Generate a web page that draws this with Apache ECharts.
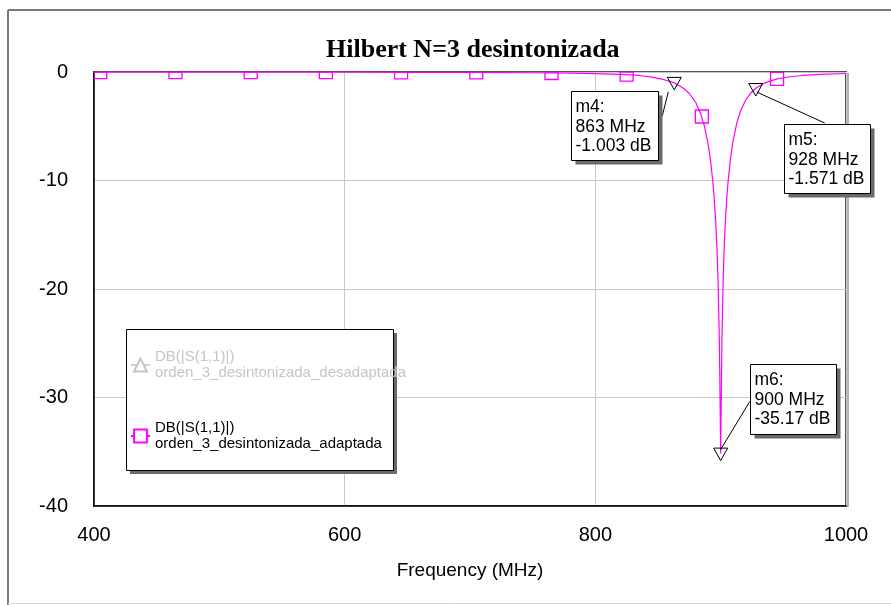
<!DOCTYPE html>
<html><head><meta charset="utf-8">
<script src="https://cdn.jsdelivr.net/npm/echarts@6/dist/echarts.min.js"></script>
<style>html,body{margin:0;padding:0;background:#fff}#c{width:891px;height:605px}</style>
</head><body><div id="c"></div>
<script>
// ---- data ----
const freqMHz = [400,450,500,550,600,650,700,750,780,800,820,835,845,855,863,870,875,880,884,887,890,892,894,895,896,897,898,899,899.5,900,900.5,901,902,903,904,905,906,908,910,913,916,920,924,928,935,945,955,965,980,1000];
const adaptadaDb = [-0.01,-0.01,-0.01,-0.01,-0.02,-0.03,-0.04,-0.07,-0.11,-0.15,-0.22,-0.32,-0.47,-0.71,-1.00,-1.47,-1.98,-2.79,-3.82,-4.97,-6.64,-8.22,-10.41,-11.86,-13.69,-16.09,-19.49,-25.13,-30.02,-35.17,-29.68,-24.71,-19.03,-15.63,-13.25,-11.43,-9.99,-7.82,-6.27,-4.65,-3.55,-2.58,-1.94,-1.50,-1.02,-0.64,-0.44,-0.32,-0.21,-0.14];
const desadaptadaDb = []; // series hidden in the reference
const squareFreq = [405,465,525,585,645,705,765,825,885,945];
const squareDb = [-0.01,-0.01,-0.01,-0.02,-0.03,-0.04,-0.09,-0.25,-4.1,-0.64];
const markerName = ['m4','m5','m6'];
const markerFreq = [863,928,900];
const markerDb = [-1.003,-1.571,-35.17];
const xTicks = [400,600,800,1000];
const yTicks = [0,-10,-20,-30,-40];
const titleText = 'Hilbert N=3 desintonizada';
const xName = 'Frequency (MHz)';
const nameDes = 'DB(|S(1,1)|)\norden_3_desintonizada_desadaptada';
const nameAd = 'DB(|S(1,1)|)\norden_3_desintonizada_adaptada';

// ---- layout (pixel offsets of marker boxes relative to their point) ----
const boxLayout = [
  {dx:-103, dy:8,  w:87, h:69, sx:-6, sy:9,  ex:-12, ey:33},
  {dx:28,   dy:35, w:86, h:69, sx:1,  sy:3,  ex:69,  ey:34},
  {dx:29,   dy:-90,w:86, h:70, sx:0,  sy:-4, ex:29,  ey:-52}
];

const chart = echarts.init(document.getElementById('c'), null, {renderer:'canvas'});
const SANS = '"Liberation Sans", Arial, sans-serif';

chart.setOption({
  animation:false,
  backgroundColor:'#fff',
  title:{text:titleText, left:321, top:32, textStyle:{fontFamily:'"Liberation Serif", "Times New Roman", serif', fontWeight:'bold', fontSize:26, color:'#000'}},
  grid:{left:94, top:72, width:752, height:434, show:true, borderColor:'#555', borderWidth:2, backgroundColor:'transparent'},
  legend:{
    orient:'vertical', left:125, top:333, z:6,
    data:[nameDes, nameAd],
    selected:{[nameDes]:false},
    itemWidth:19, itemHeight:16, itemGap:17,
    inactiveColor:'#c4c4cc',
    textStyle:{fontFamily:SANS, fontSize:15, lineHeight:16, color:'#000', padding:[22,0,0,0]}
  },
  xAxis:{
    type:'value', min:xTicks[0], max:xTicks[xTicks.length-1], interval:200,
    name:xName, nameLocation:'middle', nameGap:55,
    nameTextStyle:{fontFamily:SANS, fontSize:19, color:'#000'},
    axisLine:{show:true, onZero:false, lineStyle:{color:'#000', width:1.5}},
    axisTick:{show:false},
    axisLabel:{fontFamily:SANS, fontSize:20, color:'#000', margin:19, formatter:function(v){return String(v);}},
    splitLine:{show:true, lineStyle:{color:'#c8c8c8', width:1}}
  },
  yAxis:{
    type:'value', min:yTicks[yTicks.length-1], max:yTicks[0], interval:10,
    axisLine:{show:true, onZero:false, lineStyle:{color:'#000', width:1.5}},
    axisTick:{show:false},
    axisLabel:{fontFamily:SANS, fontSize:20, color:'#000', margin:26, formatter:function(v){return String(v);}},
    splitLine:{show:true, lineStyle:{color:'#c8c8c8', width:1}}
  },
  graphic:[
    {type:'line', shape:{x1:8, y1:10, x2:891, y2:10}, style:{stroke:'#7a7a7a', lineWidth:2}, z:1},
    {type:'line', shape:{x1:8, y1:10, x2:8, y2:605}, style:{stroke:'#7a7a7a', lineWidth:2}, z:1},
    {type:'line', shape:{x1:8, y1:603.5, x2:891, y2:603.5}, style:{stroke:'#d8d8d8', lineWidth:1}, z:1},
    {type:'line', shape:{x1:848, y1:73, x2:848, y2:507}, style:{stroke:'#9a9a9a', lineWidth:1.5}, z:1},
    {type:'rect', shape:{x:130, y:333, width:267, height:141}, style:{fill:'#6a6a6a'}, z:3},
    {type:'rect', shape:{x:126.5, y:329.5, width:267, height:141}, style:{fill:'#fff', stroke:'#000', lineWidth:1}, z:3}
  ],
  series:[
    {
      name:nameDes, type:'line', data:desadaptadaDb,
      symbol:'emptyTriangle', showSymbol:false,
      lineStyle:{color:'#8080ff', width:1}, itemStyle:{color:'#8080ff'}
    },
    {
      name:nameAd, type:'line',
      data:freqMHz.map((f,i)=>[f, adaptadaDb[i]]),
      symbol:'emptyRect', showSymbol:false, smooth:false, clip:true,
      lineStyle:{color:'#ff00ff', width:1.2}, itemStyle:{color:'#ff00ff'},
      z:3
    },
    {
      name:'squares', type:'custom', clip:true, z:3,
      data:squareFreq.map((f,i)=>[f, squareDb[i]]),
      renderItem:function(params, api){
        const p = api.coord([api.value(0), api.value(1)]);
        const top = api.coord([xTicks[0], yTicks[0]])[1];
        const y0 = Math.max(p[1]-6.5, top);
        const y1 = p[1]+6.5;
        return {type:'rect', shape:{x:p[0]-6.5, y:y0, width:13, height:y1-y0},
          style:{fill:'none', stroke:'#ff00ff', lineWidth:1.3}};
      }
    },
    {
      name:'markers', type:'custom', clip:false, z:5,
      data:markerFreq.map((f,i)=>[f, markerDb[i]]),
      renderItem:function(params, api){
        const i = params.dataIndex;
        const p = api.coord([api.value(0), api.value(1)]);
        const L = boxLayout[i];
        const bx = Math.round(p[0]+L.dx)+0.5, by = Math.round(p[1]+L.dy)+0.5;
        const txt = markerName[i] + ':\n' + markerFreq[i] + ' MHz\n' + markerDb[i] + ' dB';
        return {type:'group', children:[
          {type:'line', shape:{x1:p[0]+L.sx, y1:p[1]+L.sy, x2:p[0]+L.ex, y2:p[1]+L.ey}, style:{stroke:'#000', lineWidth:1}},
          {type:'polygon', shape:{points:[[p[0]-7,p[1]-5.5],[p[0]+7,p[1]-5.5],[p[0],p[1]+7]]}, style:{fill:'none', stroke:'#000', lineWidth:1}},
          {type:'rect', shape:{x:bx+4, y:by+4, width:L.w, height:L.h}, style:{fill:'#6a6a6a'}},
          {type:'rect', shape:{x:bx, y:by, width:L.w, height:L.h}, style:{fill:'#fff', stroke:'#000', lineWidth:1}},
          {type:'text', style:{x:bx+4, y:by+6, text:txt, fontFamily:SANS, fontSize:17.5, lineHeight:19.5, fill:'#000', verticalAlign:'top', align:'left'}}
        ]};
      }
    }
  ]
});
</script>
</body></html>
